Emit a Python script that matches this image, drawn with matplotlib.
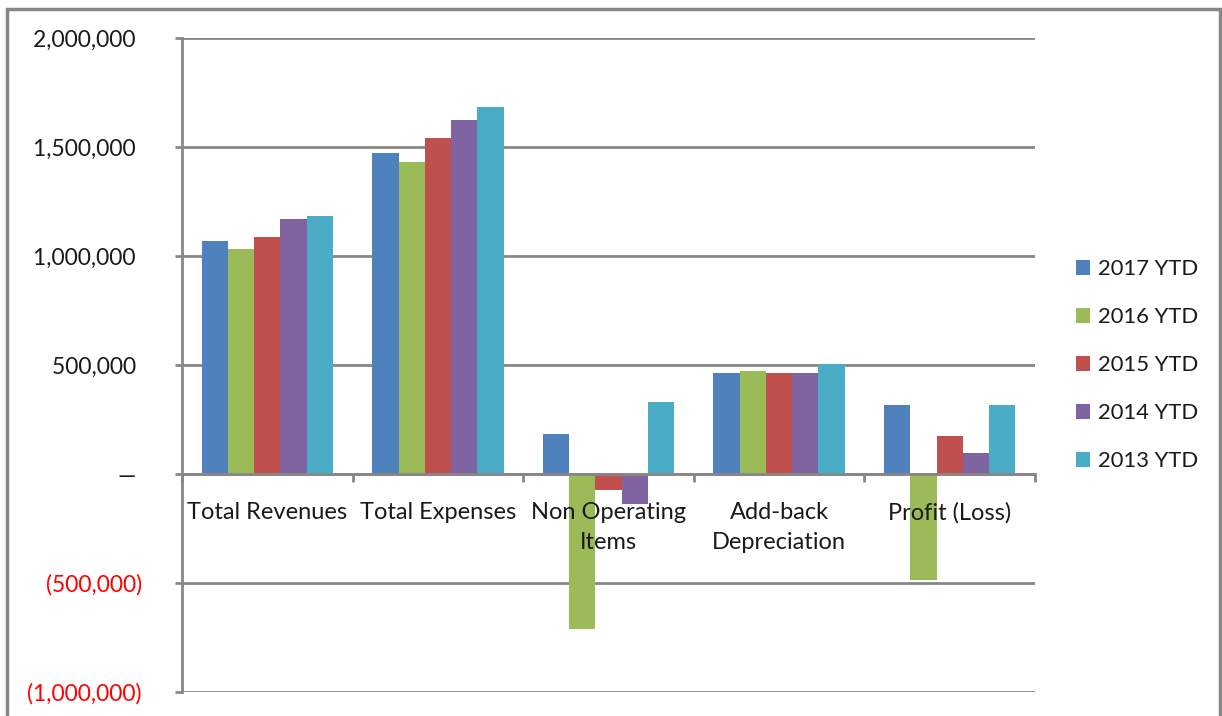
import matplotlib.pyplot as plt
import numpy as np
from matplotlib.patches import Rectangle
from matplotlib.ticker import FixedLocator, FuncFormatter

plt.rcParams["font.family"] = ["Lato", "DejaVu Sans"]

CATEGORIES = ["Total Revenues", "Total Expenses", "Non Operating\nItems",
              "Add-back\nDepreciation", "Profit (Loss)"]
SERIES = ["2017 YTD", "2016 YTD", "2015 YTD", "2014 YTD", "2013 YTD"]
COLORS = ["#4F81BD", "#9BBB59", "#C0504D", "#8064A2", "#4BACC6"]

Y2017 = [1071000, 1474000, 182000, 466000, 315000]
Y2016 = [1034000, 1432000, -710000, 471000, -486000]
Y2015 = [1089000, 1542000, -73000, 462000, 173000]
Y2014 = [1172000, 1625000, -139000, 462000, 95000]
Y2013 = [1186000, 1685000, 329000, 503000, 319000]

YTICKS = [-1000000, -500000, 0, 500000, 1000000, 1500000, 2000000]
GRAY = "#878787"


def acct(v, pos=None):
    """Excel accounting-style label."""
    if v == 0:
        return "\u2014 "
    if v < 0:
        return f"({-v:,.0f})"
    return f"{v:,.0f} "


fig = plt.figure(figsize=(12.22, 7.16), dpi=100)
ax = fig.add_axes([182 / 1222, 1 - 692 / 716, (1035 - 182) / 1222, (692 - 38.3) / 716])

values = [Y2017, Y2016, Y2015, Y2014, Y2013]
x = np.arange(len(CATEGORIES))
n = len(SERIES)
group = n / (n + 1.5)
width = group / n
for i, (name, vals, c) in enumerate(zip(SERIES, values, COLORS)):
    ax.bar(x - group / 2 + width * (i + 0.5), vals, width, color=c, label=name,
           linewidth=0, zorder=1)

ax.set_xlim(-0.5, len(CATEGORIES) - 0.5)
ax.set_ylim(YTICKS[0], YTICKS[-1])

# y axis, gridlines below the bars
ax.yaxis.set_major_locator(FixedLocator(YTICKS))
ax.yaxis.set_major_formatter(FuncFormatter(acct))
ax.yaxis.grid(True, color=GRAY, linewidth=2)
ax.yaxis.set_zorder(0.5)
ax.tick_params(axis="y", length=5, width=2, color=GRAY, pad=24, labelsize=16.5)
for lab, v in zip(ax.get_yticklabels(), YTICKS):
    lab.set_color("red" if v < 0 else "#1a1a1a")

# x axis at zero, labels above the bars
ax.spines["bottom"].set_position(("data", 0))
ax.set_xticks(x)
ax.set_xticklabels(CATEGORIES, fontsize=17, color="#1a1a1a", linespacing=1.55)
ax.set_xticks(np.arange(len(CATEGORIES) + 1) - 0.5, minor=True)
ax.tick_params(axis="x", which="major", length=0, pad=20)
ax.tick_params(axis="x", which="minor", length=6, width=2, color=GRAY)
ax.xaxis.set_zorder(3)

for s in ["top", "right"]:
    ax.spines[s].set_visible(False)
for s in ["left", "bottom"]:
    ax.spines[s].set_color(GRAY)
    ax.spines[s].set_linewidth(2)
    ax.spines[s].set_zorder(2.5)

ax.legend(loc="center left", bbox_to_anchor=(1.025, 0.5), frameon=False,
          fontsize=15.8, labelspacing=1.27, handlelength=0.65, handleheight=0.65,
          handletextpad=0.35, labelcolor="#1a1a1a")

# outer chart border
fig.patches.append(Rectangle((7 / 1222, -0.05), (1220 - 7) / 1222, 1.05 - 9 / 716,
                             transform=fig.transFigure, fill=False,
                             edgecolor=GRAY, linewidth=2.5))

fig.savefig("out.png", dpi=100)
